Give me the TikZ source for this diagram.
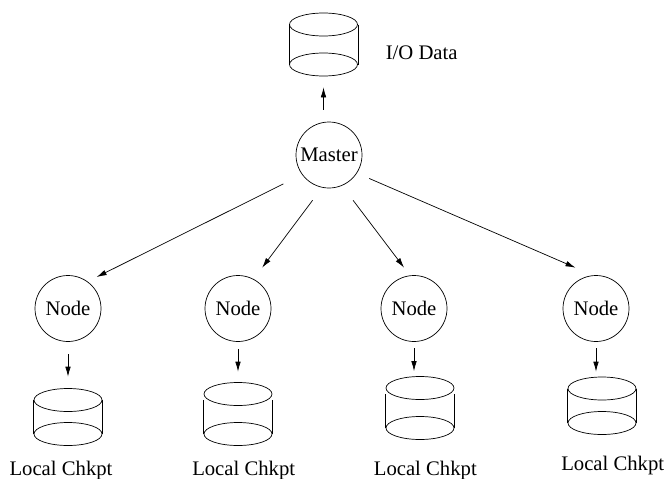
\documentclass[tikz,border=0pt]{standalone}
\usepackage{fontspec}
\setmainfont{Liberation Serif}
\usetikzlibrary{arrows.meta,shapes.geometric}
\tikzset{
  x=1pt,y=-1pt,
  every node/.style={font=\fontsize{20.7}{24}\selectfont},
  proc/.style={circle,draw,line width=0.7pt,minimum size=66pt,inner sep=0pt},
  disc/.style={ellipse,draw,line width=0.7pt,minimum width=68pt,minimum height=23pt,inner sep=0pt},
  wall/.style={line width=0.7pt},
  arr/.style={line width=0.7pt,-{Latex[length=10pt,width=5.5pt]}},
  lbl/.style={anchor=base,inner sep=0pt}
}
\begin{document}
\begin{tikzpicture}
\useasboundingbox (0,0) rectangle (664,479);
% processes
\node[proc] (master) at (329,155) {Master};
\node[proc] (n1) at (68,308.5) {Node};
\node[proc] (n2) at (238,308.5) {Node};
\node[proc] (n3) at (414,308.5) {Node};
\node[proc] (n4) at (596,308.5) {Node};
% disks
\node[disc] (iot) at (323.5,24.5) {};
\node[disc] (iob) at (323.5,64.5) {};
\node[disc] (c1t) at (68,400) {};
\node[disc] (c1b) at (68,434) {};
\node[disc] (c2t) at (238,394) {};
\node[disc] (c2b) at (238,434) {};
\node[disc] (c3t) at (420,388) {};
\node[disc] (c3b) at (420,428) {};
\node[disc] (c4t) at (602,388.5) {};
\node[disc] (c4b) at (602,423) {};
\foreach \d/\g in {io/0,c1/0,c2/6,c3/6,c4/0}{
  \draw[wall,shorten <=\g pt] (\d t.west) -- (\d b.west);
  \draw[wall,shorten <=\g pt] (\d t.east) -- (\d b.east);
}
% labels
\node[lbl] (lio) at (421.7,59) {I/O Data};
\node[lbl] (l1) at (61,475) {Local Chkpt};
\node[lbl] (l2) at (243.7,475) {Local Chkpt};
\node[lbl] (l3) at (425.3,475) {Local Chkpt};
\node[lbl] (l4) at (612.7,470) {Local Chkpt};
% connectors
\draw[arr,shorten <=12pt,shorten >=11pt] (iob.south |- master.north) -- (iob.south);
\draw[arr,shorten <=20.8pt,shorten >=10.1pt] (master.216.9) -- (n1.54.9);
\draw[arr,shorten <=15.8pt,shorten >=14.2pt] (master.258.7) -- (n2.62);
\draw[arr,shorten <=18.3pt,shorten >=9.7pt] (master.293.2) -- (n3.97.3);
\draw[arr,shorten <=13.3pt,shorten >=19.2pt] (master.327.5) -- (n4.95.9);
\draw[arr,shorten <=12.5pt,shorten >=11.5pt] (n1.south) -- (n1.south |- c1t.north);
\draw[arr,shorten <=7pt,shorten >=10.5pt] (n2.south) -- (n2.south |- c2t.north);
\draw[arr,shorten <=6.5pt,shorten >=5pt] (n3.south) -- (n3.south |- c3t.north);
\draw[arr,shorten <=6.5pt,shorten >=5pt] (n4.south) -- (n4.south |- c4t.north);
\end{tikzpicture}
\end{document}
